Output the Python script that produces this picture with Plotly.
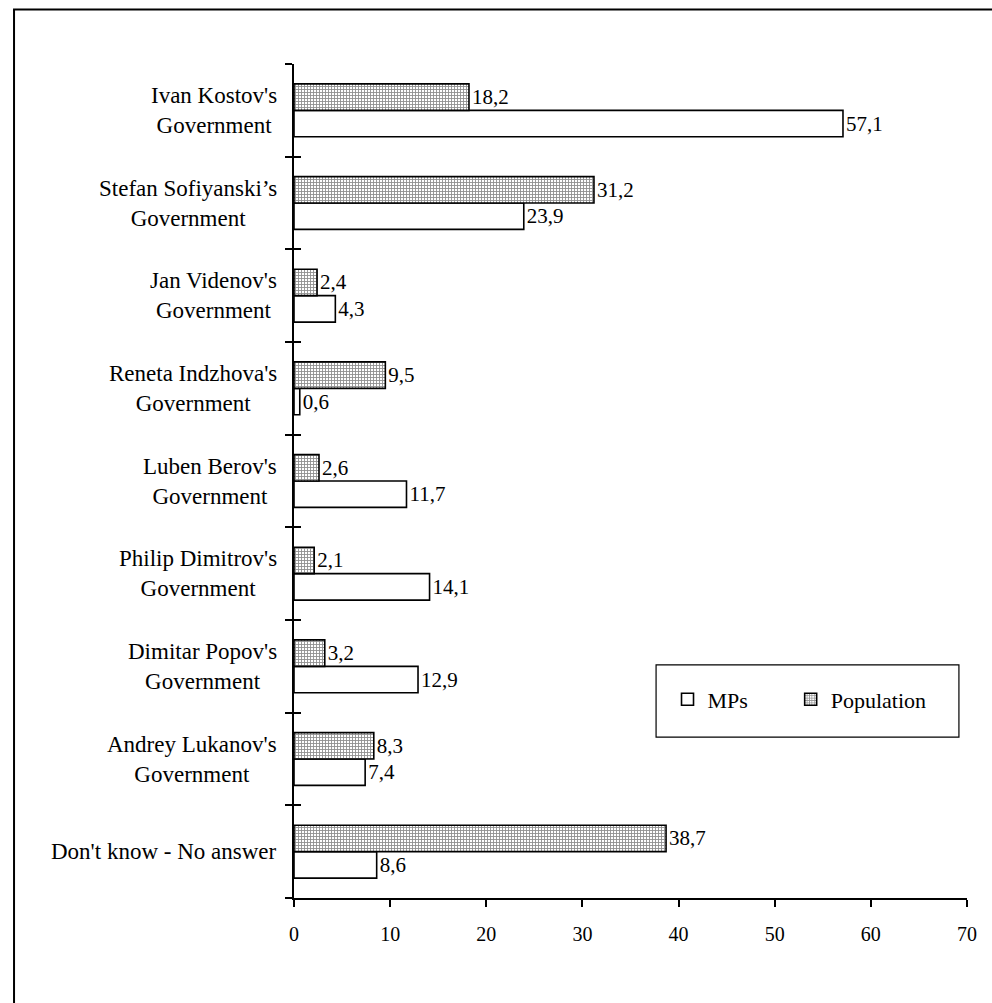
import plotly.graph_objects as go

categories = [
    "Ivan Kostov's<br>Government",
    "Stefan Sofiyanski’s<br>Government",
    "Jan Videnov's<br>Government",
    "Reneta Indzhova's<br>Government",
    "Luben Berov's<br>Government",
    "Philip Dimitrov's<br>Government",
    "Dimitar Popov's<br>Government",
    "Andrey Lukanov's<br>Government",
    "Don't know - No answer",
]
mps = [57.1, 23.9, 4.3, 0.6, 11.7, 14.1, 12.9, 7.4, 8.6]
population = [18.2, 31.2, 2.4, 9.5, 2.6, 2.1, 3.2, 8.3, 38.7]
x_ticks = [0, 10, 20, 30, 40, 50, 60, 70]

FONT = "Liberation Serif"


def fmt(v):
    return f"{v:.1f}".replace(".", ",")


fig = go.Figure()
fig.add_trace(go.Bar(
    name="MPs", y=categories, x=mps, orientation="h",
    marker=dict(color="white", line=dict(color="black", width=1.6)),
    text=[fmt(v) for v in mps], textposition="outside",
    textfont=dict(family=FONT, size=21, color="black"),
    constraintext="none", cliponaxis=False, legend="legend",
))
fig.add_trace(go.Bar(
    name="Population", y=categories, x=population, orientation="h",
    marker=dict(color="white", line=dict(color="black", width=1.6),
                pattern=dict(shape="+", size=3, solidity=0.5,
                             fgcolor="#1e1e1e", bgcolor="white")),
    text=[fmt(v) for v in population], textposition="outside",
    textfont=dict(family=FONT, size=21, color="black"),
    constraintext="none", cliponaxis=False, legend="legend2",
))
# invisible helper trace to draw the inner half of the crossing tick marks
fig.add_trace(go.Scatter(
    y=categories, x=[0] * len(categories), yaxis="y2", mode="markers",
    marker=dict(opacity=0), showlegend=False, hoverinfo="skip",
))

cat_order = list(reversed(categories))

annotations = [
    dict(x=0, xref="paper", y=c, yref="y", text=c, showarrow=False,
         xanchor="right", xshift=-15, align="center",
         font=dict(family=FONT, size=23, color="black"))
    for c in categories
]

legend_common = dict(orientation="h", yanchor="middle", xanchor="left",
                     font=dict(family=FONT, size=22, color="black"),
                     bgcolor="rgba(0,0,0,0)", borderwidth=0, itemwidth=30)

fig.update_layout(
    width=992, height=1003,
    margin=dict(l=294, r=25, t=64, b=105),
    paper_bgcolor="white", plot_bgcolor="white",
    barmode="group", bargap=0.43, bargroupgap=0,
    font=dict(family=FONT, size=20, color="black"),
    xaxis=dict(range=[0, 70], tickvals=x_ticks, ticks="outside", ticklen=7,
               tickcolor="black", tickwidth=1.5, showline=True, linecolor="black",
               linewidth=2, showgrid=False, zeroline=False,
               ticklabelstandoff=10, tickfont=dict(family=FONT, size=20)),
    yaxis=dict(type="category", categoryorder="array", categoryarray=cat_order,
               showticklabels=False, ticks="outside", tickson="boundaries",
               ticklen=7, tickcolor="black", tickwidth=1.5,
               showline=True, linecolor="black", linewidth=2, showgrid=False),
    yaxis2=dict(type="category", categoryorder="array", categoryarray=cat_order,
                overlaying="y", matches="y", anchor="x", side="left",
                showticklabels=False, ticks="inside", tickson="boundaries",
                ticklen=7, tickcolor="black", tickwidth=1.5,
                showline=False, showgrid=False),
    legend=dict(x=0.555, y=0.238, **legend_common),
    legend2=dict(x=0.738, y=0.238, **legend_common),
    annotations=annotations,
    shapes=[
        dict(type="rect", xref="paper", yref="paper", x0=0.538, x1=0.988,
             y0=0.193, y1=0.2795, line=dict(color="black", width=1.2),
             fillcolor="rgba(0,0,0,0)"),
        dict(type="rect", xref="paper", yref="paper", x0=-0.416, x1=1.2,
             y0=-0.3, y1=1.0654, line=dict(color="black", width=2),
             fillcolor="rgba(0,0,0,0)"),
    ],
)

fig.write_html("out.html")
